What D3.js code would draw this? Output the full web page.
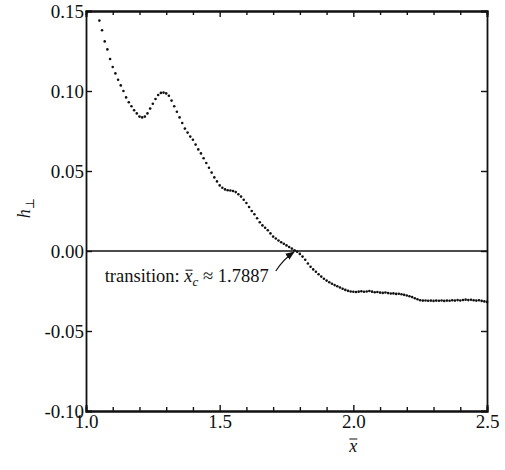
<!DOCTYPE html>
<html><head><meta charset="utf-8">
<script src="https://cdn.jsdelivr.net/npm/d3@7"></script>
<style>body{margin:0;background:#fff}svg{display:block}text{font-family:"Liberation Serif","DejaVu Serif","Nimbus Roman","FreeSerif","Noto Serif","Times New Roman",Times,serif !important;fill:#111}</style>
</head><body><svg id="c" width="505" height="470"></svg>
<script>
const xVals = [1.05,1.06,1.07,1.08,1.09,1.10,1.11,1.12,1.13,1.14,1.15,1.16,1.17,1.18,1.19,1.20,1.21,1.22,1.23,1.24,1.25,1.26,1.27,1.28,1.29,1.30,1.31,1.32,1.33,1.34,1.35,1.36,1.37,1.38,1.39,1.40,1.41,1.42,1.43,1.44,1.45,1.46,1.47,1.48,1.49,1.50,1.51,1.52,1.53,1.54,1.55,1.56,1.57,1.58,1.59,1.60,1.61,1.62,1.63,1.64,1.65,1.66,1.67,1.68,1.69,1.70,1.71,1.72,1.73,1.74,1.75,1.76,1.77,1.78,1.79,1.80,1.81,1.82,1.83,1.84,1.85,1.86,1.87,1.88,1.89,1.90,1.91,1.92,1.93,1.94,1.95,1.96,1.97,1.98,1.99,2.00,2.01,2.02,2.03,2.04,2.05,2.06,2.07,2.08,2.09,2.10,2.11,2.12,2.13,2.14,2.15,2.16,2.17,2.18,2.19,2.20,2.21,2.22,2.23,2.24,2.25,2.26,2.27,2.28,2.29,2.30,2.31,2.32,2.33,2.34,2.35,2.36,2.37,2.38,2.39,2.40,2.41,2.42,2.43,2.44,2.45,2.46,2.47,2.48,2.49,2.50];
const hVals = [0.144,0.138,0.131,0.126,0.120,0.115,0.111,0.107,0.1035,0.100,0.096,0.093,0.0905,0.088,0.086,0.084,0.0835,0.084,0.086,0.089,0.092,0.095,0.0975,0.0988,0.099,0.0985,0.097,0.094,0.0905,0.087,0.0835,0.080,0.0765,0.074,0.0715,0.0695,0.0665,0.0635,0.061,0.058,0.055,0.052,0.049,0.046,0.0435,0.041,0.0395,0.0385,0.038,0.0378,0.0375,0.0368,0.0355,0.034,0.032,0.030,0.0275,0.025,0.023,0.0205,0.018,0.016,0.0145,0.013,0.011,0.009,0.0078,0.0066,0.0055,0.0045,0.0035,0.0025,0.0015,0.0005,-0.0005,-0.0018,-0.0035,-0.0055,-0.0078,-0.0098,-0.0115,-0.013,-0.0145,-0.016,-0.0173,-0.0185,-0.0195,-0.0205,-0.0213,-0.022,-0.0228,-0.0236,-0.0243,-0.0249,-0.0253,-0.0255,-0.0256,-0.0254,-0.0252,-0.0255,-0.0253,-0.025,-0.0254,-0.0258,-0.0256,-0.026,-0.0262,-0.0259,-0.0263,-0.0266,-0.0265,-0.0268,-0.0267,-0.027,-0.0274,-0.0278,-0.0283,-0.0288,-0.0295,-0.0302,-0.0308,-0.031,-0.0309,-0.0311,-0.031,-0.0312,-0.031,-0.0311,-0.0309,-0.0312,-0.031,-0.0311,-0.0308,-0.031,-0.0307,-0.0309,-0.0306,-0.0304,-0.0307,-0.0305,-0.0308,-0.031,-0.0308,-0.0312,-0.0315,-0.0318];
const xTickLabels = ["1.0","1.5","2.0","2.5"];
const yTickLabels = ["-0.10","-0.05","0.00","0.05","0.10","0.15"];
const xMajor = [1.0,1.5,2.0,2.5];
const xMinor = [1.1,1.2,1.3,1.4,1.6,1.7,1.8,1.9,2.1,2.2,2.3,2.4];
const yMajor = [-0.10,-0.05,0.00,0.05,0.10,0.15];
const transitionX = 1.7887;
const annotationText = "transition: ";

const FONT = '"Liberation Serif","DejaVu Serif","Nimbus Roman","FreeSerif","Noto Serif","Times New Roman",Times,serif';
const svg = d3.select("#c");
const L=86,R=487,T=11,B=411;
const x = d3.scaleLinear().domain([1.0,2.5]).range([L,R]);
const y = d3.scaleLinear().domain([-0.10,0.15]).range([B,T]);

svg.append("line").attr("x1",L).attr("x2",R).attr("y1",y(0)).attr("y2",y(0)).attr("stroke","#111").attr("stroke-width",1.4);

const fmtX = d=>xTickLabels[xMajor.findIndex(v=>Math.abs(v-d)<1e-9)] || "";
const fmtY = d=>yTickLabels[yMajor.findIndex(v=>Math.abs(v-d)<1e-9)] || "";
const gB = svg.append("g").attr("transform",`translate(0,${B})`).call(d3.axisBottom(x).tickValues(xMajor).tickSize(-6).tickFormat(fmtX));
svg.append("g").attr("transform",`translate(0,${B})`).call(d3.axisBottom(x).tickValues(xMinor).tickSize(-4).tickFormat(""));
svg.append("g").attr("transform",`translate(0,${T})`).call(d3.axisTop(x).tickValues(xMajor).tickSize(-6).tickFormat(""));
svg.append("g").attr("transform",`translate(0,${T})`).call(d3.axisTop(x).tickValues(xMinor).tickSize(-4).tickFormat(""));
const gL = svg.append("g").attr("transform",`translate(${L},0)`).call(d3.axisLeft(y).tickValues(yMajor).tickSize(-6).tickFormat(fmtY));
svg.append("g").attr("transform",`translate(${R},0)`).call(d3.axisRight(y).tickValues(yMajor).tickSize(-6).tickFormat(""));
svg.selectAll("g").attr("font-family",FONT);
svg.selectAll(".domain").attr("stroke","#111").attr("stroke-width",1.8);
svg.selectAll(".tick line").attr("stroke","#111").attr("stroke-width",1.4);
svg.selectAll(".tick text").attr("font-size",19).attr("fill","#111");
gB.selectAll(".tick text").attr("y",3).attr("dy","0.71em");
gL.selectAll(".tick text").attr("x",-2).attr("dy","0.32em");

svg.append("g").selectAll("circle").data(xVals).join("circle")
  .attr("cx",d=>x(d)).attr("cy",(d,i)=>y(hVals[i])).attr("r",1.3).attr("fill","#111");

const ann = svg.append("text").attr("x",x(1.07)).attr("y",y(-0.0195)).attr("font-size",18.5).attr("font-family",FONT);
ann.append("tspan").text(annotationText);
ann.append("tspan").attr("font-style","italic").text("x");
ann.append("tspan").attr("font-style","italic").attr("font-size",13).attr("dy",4).text("c");
ann.append("tspan").attr("dy",-4).text(" \u2248 " + transitionX.toFixed(4));

svg.append("defs").append("marker").attr("id","ah").attr("viewBox","0 0 10 10").attr("refX",9).attr("refY",5)
  .attr("markerWidth",9).attr("markerHeight",9).attr("markerUnits","userSpaceOnUse").attr("orient","auto")
  .append("path").attr("d","M0,1 L10,5 L0,9 Z").attr("fill","#111");
const p = d3.path();
p.moveTo(x(1.71),y(-0.0125));
p.quadraticCurveTo(x(1.74),y(-0.005),x(1.778),y(-0.0007));
svg.append("path").attr("d",p.toString()).attr("fill","none").attr("stroke","#111").attr("stroke-width",1.2).attr("marker-end","url(#ah)");

const yl = svg.append("text").attr("transform",`translate(30,208) rotate(-90)`).attr("text-anchor","middle").attr("font-size",18).attr("font-family",FONT);
yl.append("tspan").attr("font-style","italic").text("h");
yl.append("tspan").attr("font-size",12).attr("dy",4).text("\u22A5");
const xl = svg.append("text").attr("x",x(2.0)).attr("y",452).attr("text-anchor","middle").attr("font-size",18).attr("font-style","italic").attr("font-family",FONT).text("x");
const xlb = xl.node().getBBox();
svg.append("line").attr("x1",xlb.x+1).attr("x2",xlb.x+xlb.width).attr("y1",xlb.y+3).attr("y2",xlb.y+3).attr("stroke","#111").attr("stroke-width",1);
const xTs = ann.selectAll("tspan").nodes()[1];
const ext = xTs.getExtentOfChar(0);
svg.append("line").attr("x1",ext.x+1).attr("x2",ext.x+ext.width).attr("y1",ext.y+4).attr("y2",ext.y+4).attr("stroke","#111").attr("stroke-width",1);
</script></body></html>
